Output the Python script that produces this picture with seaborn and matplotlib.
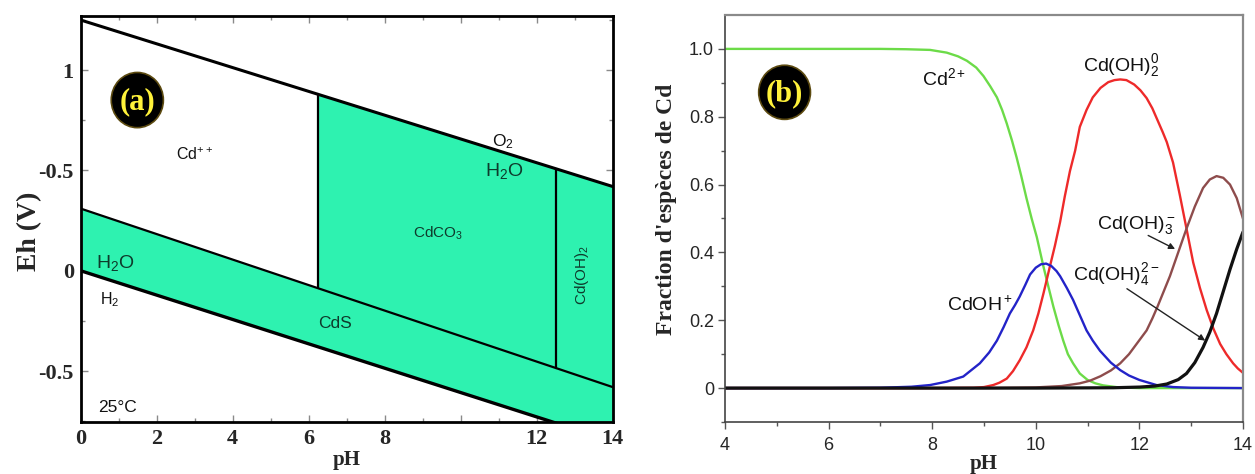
import numpy as np
import pandas as pd
import matplotlib
matplotlib.use("Agg")
import matplotlib.pyplot as plt
from matplotlib.patches import Ellipse
from matplotlib.ticker import FixedLocator, FixedFormatter, MultipleLocator
import seaborn as sns

# ---------------- (a) Eh-pH diagram of the Cd-C-S-H2O system ----------------
ph_span = [0, 14]
eh_o2_h2o = [1.25, 0.42]      # upper water stability limit
eh_cd_cds = [0.31, -0.58]     # Cd++ / CdCO3 / Cd(OH)2 against CdS
eh_h2o_h2 = [0.0, -0.85]      # lower water stability limit
ph_cd_cdco3 = 6.25
ph_cdco3_cdoh2 = 12.5

eh_ticks = [-0.5, 0, 0.5, 1]
eh_tick_labels = ["-0.5", "0", "-0.5", "1"]
ph_ticks_a = [0, 2, 4, 6, 8, 10, 12, 14]
ph_tick_labels_a = ["0", "2", "4", "6", "8", "", "12", "14"]

# ---------------- (b) Cd speciation versus pH ----------------
ph_cd2 = [4.0, 5.0, 6.0, 7.0, 7.5, 7.96, 8.28, 8.5, 8.67, 8.85, 8.99, 9.12, 9.25,
          9.35, 9.44, 9.54, 9.63, 9.72, 9.82, 9.92, 10.02, 10.15, 10.25, 10.34,
          10.44, 10.53, 10.62, 10.72, 10.85, 11.0, 11.15, 11.3, 11.6, 12.0, 13.0, 14.0]
fr_cd2 = [1.0, 1.0, 1.0, 1.0, 0.999, 0.997, 0.989, 0.978, 0.965, 0.945, 0.92, 0.89,
          0.857, 0.82, 0.78, 0.73, 0.68, 0.625, 0.56, 0.50, 0.445, 0.357, 0.295,
          0.24, 0.185, 0.14, 0.10, 0.073, 0.043, 0.024, 0.014, 0.008, 0.002, 0.0,
          0.0, 0.0]

ph_cdoh = [4.0, 6.0, 7.0, 7.6, 7.96, 8.28, 8.6, 8.92, 9.1, 9.25, 9.38, 9.5, 9.6,
           9.69, 9.8, 9.89, 10.0, 10.1, 10.2, 10.3, 10.4, 10.47, 10.6, 10.72, 10.85,
           10.98, 11.1, 11.24, 11.45, 11.63, 11.8, 12.0, 12.33, 12.65, 13.0, 14.0]
fr_cdoh = [0.0, 0.0, 0.001, 0.004, 0.009, 0.019, 0.034, 0.073, 0.105, 0.14, 0.18,
           0.22, 0.245, 0.27, 0.305, 0.335, 0.355, 0.365, 0.367, 0.36, 0.345, 0.33,
           0.295, 0.26, 0.215, 0.17, 0.14, 0.11, 0.075, 0.053, 0.037, 0.024, 0.009,
           0.003, 0.001, 0.0]

ph_cdoh2 = [4.0, 8.0, 8.8, 9.0, 9.18, 9.3, 9.44, 9.56, 9.69, 9.82, 9.95, 10.05,
            10.15, 10.27, 10.37, 10.47, 10.56, 10.66, 10.76, 10.85, 10.98, 11.1,
            11.25, 11.4, 11.52, 11.63, 11.75, 11.9, 12.02, 12.14, 12.25, 12.35,
            12.45, 12.53, 12.65, 12.78, 12.91, 13.04, 13.17, 13.3, 13.43, 13.56,
            13.68, 13.81, 13.9, 14.0]
fr_cdoh2 = [0.0, 0.0, 0.001, 0.003, 0.009, 0.016, 0.028, 0.05, 0.082, 0.12, 0.17,
            0.22, 0.28, 0.357, 0.42, 0.49, 0.565, 0.64, 0.70, 0.77, 0.82, 0.857,
            0.885, 0.902, 0.908, 0.91, 0.908, 0.895, 0.878, 0.855, 0.825, 0.79,
            0.755, 0.725, 0.665, 0.57, 0.47, 0.37, 0.295, 0.23, 0.175, 0.13, 0.10,
            0.073, 0.058, 0.045]

ph_cdoh3 = [4.0, 9.0, 10.0, 10.5, 10.85, 11.05, 11.25, 11.45, 11.63, 11.8, 11.97,
            12.14, 12.25, 12.35, 12.47, 12.59, 12.75, 12.91, 13.07, 13.23, 13.36,
            13.49, 13.62, 13.75, 13.88, 14.0]
fr_cdoh3 = [0.0, 0.0, 0.002, 0.006, 0.014, 0.022, 0.035, 0.052, 0.073, 0.10, 0.135,
            0.17, 0.205, 0.24, 0.285, 0.33, 0.40, 0.47, 0.535, 0.59, 0.615, 0.625,
            0.62, 0.60, 0.56, 0.50]

ph_cdoh4 = [4.0, 10.0, 11.5, 12.01, 12.3, 12.53, 12.75, 12.91, 13.07, 13.23, 13.36,
            13.49, 13.62, 13.75, 13.88, 14.0]
fr_cdoh4 = [0.0, 0.0, 0.001, 0.003, 0.006, 0.012, 0.025, 0.043, 0.075, 0.12, 0.165,
            0.22, 0.285, 0.35, 0.41, 0.46]

species = ["Cd2+", "Cd(OH)2", "Cd(OH)3-", "CdOH+", "Cd(OH)4 2-"]
species_colors = ["#6CDB48", "#EE2A2A", "#8E4C4C", "#2323C8", "#111111"]

# ---------------------------------------------------------------------------
sns.set_theme(style="ticks")
plt.rcParams["font.family"] = ["Liberation Sans", "DejaVu Sans"]
plt.rcParams["mathtext.fontset"] = "custom"
plt.rcParams["mathtext.rm"] = "Liberation Sans"
plt.rcParams["mathtext.it"] = "Liberation Sans:italic"
plt.rcParams["mathtext.bf"] = "Liberation Sans:bold"

SERIF = ["Liberation Serif", "DejaVu Serif"]
SANS = ["Liberation Sans", "DejaVu Sans"]
TEAL = "#2EF2B0"
ON_TEAL = "#0E3B2C"

fig = plt.figure(figsize=(12.55, 4.74), dpi=100)
ax_a = fig.add_axes([0.0643, 0.1097, 0.4239, 0.8565])
ax_b = fig.add_axes([0.5777, 0.1097, 0.4127, 0.8587])

# ---------------- panel (a) ----------------
ph_line = np.array(ph_span, dtype=float)
up = np.array(eh_o2_h2o)
mid = np.array(eh_cd_cds)
low = np.array(eh_h2o_h2)

# CdS band between the lower water line and the sulfide boundary
ax_a.fill_between(ph_line, low, mid, color=TEAL, lw=0, zorder=1)
# CdCO3 and Cd(OH)2 fields
ph_solid = np.array([ph_cd_cdco3, ph_span[1]])
ax_a.fill_between(ph_solid, np.interp(ph_solid, ph_line, mid),
                  np.interp(ph_solid, ph_line, up), color=TEAL, lw=0, zorder=1)

ax_a.plot(ph_line, up, color="black", lw=2.2, zorder=3)
ax_a.plot(ph_line, mid, color="black", lw=1.6, zorder=3)
ax_a.plot(ph_line, low, color="black", lw=2.4, zorder=3)
for ph_v in (ph_cd_cdco3, ph_cdco3_cdoh2):
    ax_a.plot([ph_v, ph_v],
              [np.interp(ph_v, ph_line, mid), np.interp(ph_v, ph_line, up)],
              color="black", lw=1.6, zorder=3)

ax_a.set_xlim(0, 14)
ax_a.set_ylim(-0.754, 1.27)
ax_a.xaxis.set_major_locator(FixedLocator(ph_ticks_a))
ax_a.xaxis.set_major_formatter(FixedFormatter(ph_tick_labels_a))
ax_a.xaxis.set_minor_locator(MultipleLocator(1))
ax_a.yaxis.set_major_locator(FixedLocator(eh_ticks))
ax_a.yaxis.set_major_formatter(FixedFormatter(eh_tick_labels))
ax_a.yaxis.set_minor_locator(MultipleLocator(0.25))
ax_a.tick_params(which="both", direction="in", top=True, right=True,
                 color="#8a8a8a", width=1)
ax_a.tick_params(which="major", length=5, pad=5)
ax_a.tick_params(which="minor", length=3)
for lab in ax_a.get_xticklabels() + ax_a.get_yticklabels():
    lab.set_fontfamily(SERIF)
    lab.set_fontweight("bold")
    lab.set_fontsize(16)
for sp in ax_a.spines.values():
    sp.set_color("black")
    sp.set_linewidth(2.0)
    sp.set_zorder(4)

ax_a.set_xlabel("pH", fontfamily=SERIF, fontweight="bold", fontsize=15, labelpad=1)
ax_a.set_ylabel("Eh (V)", fontfamily=SERIF, fontweight="bold", fontsize=20)
ax_a.yaxis.set_label_coords(-0.072, 0.47)

txt = dict(fontfamily=SANS, ha="center", va="center", zorder=5)
ax_a.text(3.0, 0.58, r"Cd$^{++}$", fontsize=11.5, color="#111111", **txt)
ax_a.text(11.1, 0.645, r"O$_2$", fontsize=12.5, color="#111111", **txt)
ax_a.text(11.15, 0.495, r"H$_2$O", fontsize=14, color=ON_TEAL, **txt)
ax_a.text(9.4, 0.185, r"CdCO$_3$", fontsize=11, color=ON_TEAL, **txt)
ax_a.text(13.2, -0.02, r"Cd(OH)$_2$", fontsize=11, color=ON_TEAL, rotation=90, **txt)
ax_a.text(0.92, 0.04, r"H$_2$O", fontsize=14, color=ON_TEAL, **txt)
ax_a.text(0.76, -0.145, r"H$_2$", fontsize=11.5, color="#111111", **txt)
ax_a.text(6.7, -0.262, "CdS", fontsize=12.5, color=ON_TEAL, **txt)
ax_a.text(0.98, -0.68, "25°C", fontsize=12.5, color="#111111", **txt)

ax_a.add_patch(Ellipse((0.1064, 0.793), 0.098, 0.136, transform=ax_a.transAxes,
                       facecolor="black", edgecolor="#5c4a10", lw=1.2, zorder=6))
ax_a.text(0.1064, 0.79, "(a)", transform=ax_a.transAxes, fontfamily=SERIF,
          fontweight="bold", fontsize=22, color="#FFF23A", ha="center",
          va="center", zorder=7)

# ---------------- panel (b) ----------------
frames = []
for name, ph, fr in [("Cd2+", ph_cd2, fr_cd2), ("Cd(OH)2", ph_cdoh2, fr_cdoh2),
                     ("Cd(OH)3-", ph_cdoh3, fr_cdoh3), ("CdOH+", ph_cdoh, fr_cdoh),
                     ("Cd(OH)4 2-", ph_cdoh4, fr_cdoh4)]:
    frames.append(pd.DataFrame({"pH": ph, "fraction": fr, "species": name}))
spec = pd.concat(frames, ignore_index=True)

for name, col in zip(species, species_colors):
    sub = spec[spec["species"] == name]
    sns.lineplot(data=sub, x="pH", y="fraction", color=col,
                 lw=2.3 if name == "Cd(OH)4 2-" else 1.7, ax=ax_b,
                 estimator=None, sort=False, legend=False)

ax_b.set_xlim(4, 14)
ax_b.set_ylim(-0.1, 1.1)
ax_b.xaxis.set_major_locator(MultipleLocator(2))
ax_b.xaxis.set_minor_locator(MultipleLocator(1))
ax_b.yaxis.set_major_locator(FixedLocator([0, 0.2, 0.4, 0.6, 0.8, 1.0]))
ax_b.yaxis.set_major_formatter(FixedFormatter(["0", "0.2", "0.4", "0.6", "0.8", "1.0"]))
ax_b.yaxis.set_minor_locator(FixedLocator([-0.1, 0.1, 0.3, 0.5, 0.7, 0.9]))
ax_b.tick_params(which="both", direction="out", color="#555555", width=1)
ax_b.tick_params(which="major", length=5, labelsize=13)
ax_b.tick_params(axis="x", which="major", pad=6)
ax_b.tick_params(axis="y", which="major", pad=3)
ax_b.tick_params(which="minor", length=3)
for lab in ax_b.get_xticklabels() + ax_b.get_yticklabels():
    lab.set_fontfamily(SANS)
for side in ("left", "bottom"):
    ax_b.spines[side].set_color("#444444")
    ax_b.spines[side].set_linewidth(1.2)
for side in ("top", "right"):
    ax_b.spines[side].set_visible(True)
    ax_b.spines[side].set_color("#8a8a8a")
    ax_b.spines[side].set_linewidth(1.6)

ax_b.set_xlabel("pH", fontfamily=SERIF, fontweight="bold", fontsize=15, labelpad=0)
ax_b.set_ylabel("Fraction d'espèces de Cd", fontfamily=SERIF, fontweight="bold",
                fontsize=17)
ax_b.yaxis.set_label_coords(-0.092, 0.523)

ax_b.text(8.23, 0.915, r"Cd$^{2+}$", fontsize=14, color="#111111", **txt)
ax_b.text(11.65, 0.95, r"Cd(OH)$_2^0$", fontsize=14, color="#111111", **txt)
ax_b.text(8.92, 0.245, r"CdOH$^+$", fontsize=14, color="#111111", **txt)
ax_b.text(11.95, 0.48, r"Cd(OH)$_3^-$", fontsize=14, color="#111111", **txt)
ax_b.text(11.55, 0.335, r"Cd(OH)$_4^{2-}$", fontsize=14, color="#111111", **txt)

arrow = dict(arrowstyle="-|>", color="#222222", lw=1.0, mutation_scale=9,
             shrinkA=0, shrinkB=0)
ax_b.annotate("", xy=(12.69, 0.41), xytext=(12.17, 0.45), arrowprops=arrow)
ax_b.annotate("", xy=(13.27, 0.14), xytext=(11.76, 0.293), arrowprops=arrow)

ax_b.add_patch(Ellipse((0.115, 0.81), 0.1, 0.133, transform=ax_b.transAxes,
                       facecolor="black", edgecolor="#5c4a10", lw=1.2, zorder=6))
ax_b.text(0.115, 0.807, "(b)", transform=ax_b.transAxes, fontfamily=SERIF,
          fontweight="bold", fontsize=22, color="#FFF23A", ha="center",
          va="center", zorder=7)

fig.savefig("out.png", dpi=100)
